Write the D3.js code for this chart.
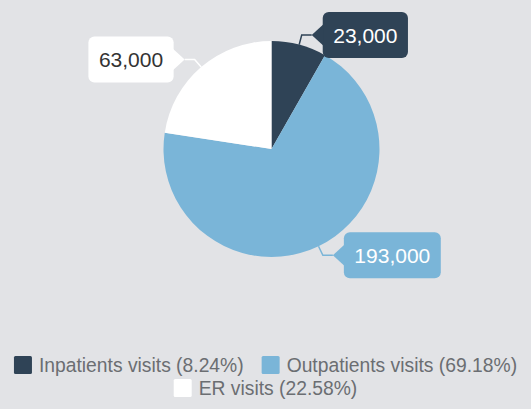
<!DOCTYPE html>
<html>
<head>
<meta charset="utf-8">
<script src="https://cdn.jsdelivr.net/npm/d3@7"></script>
<style>
  html, body { margin: 0; padding: 0; background: #e2e3e6; }
  svg { display: block; font-family: "Liberation Sans", Arial, sans-serif; }
</style>
</head>
<body>
<svg id="chart" width="531" height="409"></svg>
<script>
const categories = ["Inpatients visits", "Outpatients visits", "ER visits"];
const values = [23000, 193000, 63000];
const colors = ["#2f4356", "#7ab5d8", "#ffffff"];
const labelTextColors = ["#ffffff", "#ffffff", "#333333"];

const W = 531, H = 409;
const cx = 271.5, cy = 149, R = 108;
const svg = d3.select("#chart");
svg.append("rect").attr("width", W).attr("height", H).attr("fill", "#e2e3e6");

const total = d3.sum(values);
const data = categories.map((c, i) => ({ name: c, value: values[i], color: colors[i], tc: labelTextColors[i] }));
const pie = d3.pie().value(d => d.value).sort(null);
const arcs = pie(data);
const arc = d3.arc().innerRadius(0).outerRadius(R);
const edgeArc = d3.arc().innerRadius(R).outerRadius(R);
const outArc = d3.arc().innerRadius(R + 10).outerRadius(R + 10);

const g = svg.append("g").attr("transform", `translate(${cx},${cy})`);
g.selectAll("path.slice").data(arcs).enter().append("path")
  .attr("class", "slice")
  .attr("d", arc)
  .attr("fill", d => d.data.color);

const fmt = d3.format(",");
const fontSize = 21;
const padX = 10.5, boxH = 46, tipOff = 11, baseHalf = 11, rx = 6;

arcs.forEach(a => {
  const mid = (a.startAngle + a.endAngle) / 2;
  const right = Math.sin(mid) >= 0;
  const dir = right ? 1 : -1;
  const p0 = edgeArc.centroid(a);
  const p1 = outArc.centroid(a);
  const tip = [p1[0] + dir * 10, p1[1]];

  g.append("polyline")
    .attr("points", [p0, p1, tip].map(p => p.join(",")).join(" "))
    .attr("fill", "none")
    .attr("stroke", a.data.color)
    .attr("stroke-width", 1.5);

  const lg = g.append("g");
  const txt = lg.append("text")
    .attr("font-size", fontSize)
    .attr("fill", a.data.tc)
    .attr("dominant-baseline", "central")
    .text(fmt(a.data.value));
  const tw = txt.node().getComputedTextLength();
  const bw = tw + 2 * padX;
  const bx = right ? tip[0] + tipOff : tip[0] - tipOff - bw;
  const by = tip[1] - boxH / 2;
  lg.insert("rect", "text")
    .attr("x", bx).attr("y", by).attr("width", bw).attr("height", boxH)
    .attr("rx", rx).attr("fill", a.data.color);
  const baseX = right ? bx + 1 : bx + bw - 1;
  lg.insert("path", "text")
    .attr("d", `M${baseX},${tip[1] - baseHalf}L${tip[0]},${tip[1]}L${baseX},${tip[1] + baseHalf}Z`)
    .attr("fill", a.data.color);
  txt.attr("x", bx + padX).attr("y", tip[1] + 0.5);
});

// legend
const legFont = 19.3, sq = 18, sqGap = 7, itemGap = 18, rowH = 23, maxW = 525;
const leg = svg.append("g");
const items = data.map((d, i) => {
  const label = `${d.name} (${(d.value / total * 100).toFixed(2)}%)`;
  const t = leg.append("text").attr("font-size", legFont).attr("fill", "#6b6e72")
    .attr("dominant-baseline", "central").text(label);
  const w = sq + sqGap + t.node().getComputedTextLength();
  return { d, t, w };
});
const rows = [];
let cur = [], curW = 0;
items.forEach(it => {
  const add = cur.length ? itemGap + it.w : it.w;
  if (cur.length && curW + add > maxW) { rows.push({ items: cur, w: curW }); cur = [it]; curW = it.w; }
  else { cur.push(it); curW += add; }
});
if (cur.length) rows.push({ items: cur, w: curW });
const legTop = 365;
rows.forEach((row, ri) => {
  let x = (W - row.w) / 2;
  const y = legTop + ri * rowH;
  row.items.forEach(it => {
    leg.append("rect").attr("x", x).attr("y", y - sq / 2).attr("width", sq).attr("height", sq)
      .attr("rx", 1.5).attr("fill", it.d.color);
    it.t.attr("x", x + sq + sqGap).attr("y", y + 0.5);
    x += it.w + itemGap;
  });
});
</script>
</body>
</html>
